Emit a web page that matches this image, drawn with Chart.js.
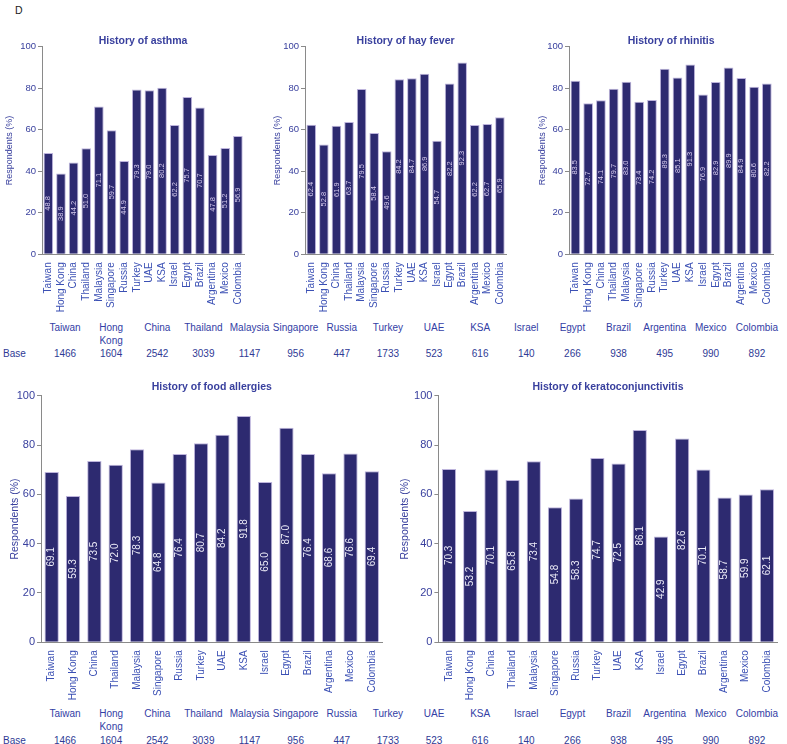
<!DOCTYPE html>
<html>
<head>
<meta charset="utf-8">
<script src="https://cdn.jsdelivr.net/npm/chart.js@4.4.1/dist/chart.umd.min.js"></script>
<style>
html, body { margin:0; padding:0; background:#fff; }
#page { position:relative; width:787px; height:744px; overflow:hidden; font-family:"Liberation Sans", Arial, sans-serif; }
.box { position:absolute; }
.cell { position:absolute; width:48px; margin-left:-24px; text-align:center; font-size:10px; line-height:13px; color:#3340a5; }
.lbl { position:absolute; font-size:10px; line-height:13px; color:#2f3a95; }
</style>
</head>
<body>
<div id="page">
  <div class="lbl" style="left:15px; top:4px; font-size:10.5px; color:#222;">D</div>

  <div class="box" style="left:0; top:30px;"><canvas id="c-asthma" width="258" height="290"></canvas></div>
  <div class="box" style="left:262px; top:30px;"><canvas id="c-hay" width="258" height="290"></canvas></div>
  <div class="box" style="left:526px; top:30px;"><canvas id="c-rhin" width="261" height="290"></canvas></div>
  <div class="box" style="left:0; top:375px;"><canvas id="c-food" width="392" height="330"></canvas></div>
  <div class="box" style="left:394px; top:375px;"><canvas id="c-kerato" width="393" height="330"></canvas></div>

  <div id="table-top"></div>
  <div id="table-bottom"></div>
</div>

<script>
// ---- data ----
const countries = ['Taiwan','Hong Kong','China','Thailand','Malaysia','Singapore','Russia','Turkey','UAE','KSA','Israel','Egypt','Brazil','Argentina','Mexico','Colombia'];
const baseN = [1466,1604,2542,3039,1147,956,447,1733,523,616,140,266,938,495,990,892];
const yTicks = [0,20,40,60,80,100];

const asthma   = [48.8,38.9,44.2,51.0,71.1,59.7,44.9,79.3,79.0,80.2,62.2,75.7,70.7,47.8,51.2,56.9];
const hayFever = [62.4,52.8,61.9,63.7,79.5,58.4,49.6,84.2,84.7,86.9,54.7,82.2,92.3,62.2,62.7,65.9];
const rhinitis = [83.5,72.7,74.1,79.7,83.0,73.4,74.2,89.3,85.1,91.3,76.9,82.9,89.9,84.9,80.6,82.2];
const foodAllergies = [69.1,59.3,73.5,72.0,78.3,64.8,76.4,80.7,84.2,91.8,65.0,87.0,76.4,68.6,76.6,69.4];
const kerato   = [70.3,53.2,70.1,65.8,73.4,54.8,58.3,74.7,72.5,86.1,42.9,82.6,70.1,58.7,59.9,62.1];

const FONT = '"Liberation Sans", Arial, sans-serif';
const BAR = '#2d2a70';
const BAR_EDGE = '#bdb4dc';
const AXIS = '#8a8a8a';
const TICK = '#39409e';
const CAT = '#3b50b4';

// value labels inside the bars + chart title above the plot
const barText = {
  id: 'barText',
  afterDatasetsDraw(chart, args, o){
    const ctx = chart.ctx;
    const meta = chart.getDatasetMeta(0);
    const vals = chart.data.datasets[0].data;
    ctx.save();
    ctx.font = o.size + 'px ' + FONT;
    ctx.fillStyle = o.color;
    ctx.textAlign = 'center';
    ctx.textBaseline = 'middle';
    meta.data.forEach((bar, i) => {
      ctx.save();
      ctx.translate(bar.x, (bar.y + bar.base) / 2);
      ctx.rotate(-Math.PI / 2);
      ctx.fillText(vals[i].toFixed(1), 0, 0);
      ctx.restore();
    });
    const a = chart.chartArea;
    ctx.font = 'bold ' + o.titleSize + 'px ' + FONT;
    ctx.fillStyle = TICK;
    ctx.fillText(o.title, (a.left + a.right) / 2, a.top - o.titleGap);
    ctx.restore();
  }
};

function makeChart(id, title, values, g){
  return new Chart(document.getElementById(id), {
    type: 'bar',
    data: {
      labels: countries,
      datasets: [{
        data: values,
        backgroundColor: BAR,
        borderColor: BAR_EDGE,
        borderWidth: 1,
        borderSkipped: 'start',
        categoryPercentage: 1,
        barPercentage: g.bar
      }]
    },
    options: {
      responsive: false,
      animation: false,
      layout: { padding: { left: 0, top: g.pt, right: g.pr, bottom: 0 } },
      plugins: {
        legend: { display: false },
        tooltip: { enabled: false },
        barText: { title: title, titleSize: 10.5, titleGap: g.tg, size: g.val, color: g.valColor }
      },
      scales: {
        x: {
          grid: { display: false, drawTicks: false },
          border: { display: true, color: AXIS, width: 1 },
          ticks: { autoSkip: false, maxRotation: 90, minRotation: 90, padding: 8, color: CAT, font: { size: 10, family: FONT } },
          afterFit: s => { s.height = g.xh; }
        },
        y: {
          min: 0, max: 100,
          afterBuildTicks: s => { s.ticks = yTicks.map(v => ({ value: v })); },
          ticks: { color: TICK, padding: 2, font: { size: g.tick, family: FONT } },
          grid: { drawOnChartArea: false, tickLength: 4, color: AXIS },
          border: { color: AXIS, width: 1 },
          title: { display: true, text: 'Respondents (%)', color: TICK, font: { size: g.yt, family: FONT }, padding: { top: g.ytp, bottom: 0 } },
          afterFit: s => { s.width = g.yw; }
        }
      }
    },
    plugins: [barText]
  });
}

const topGeo = { pt: 16.5, xh: 65.7, bar: 0.76, tick: 9.5, yt: 9, tg: 5, val: 7.5, valColor: '#d8cdef' };
const botGeo = { pt: 20.7, xh: 62.7, bar: 0.67, tick: 11, yt: 10.5, tg: 8.4, val: 10, valColor: '#ecebf7' };

makeChart('c-asthma', 'History of asthma', asthma, Object.assign({}, topGeo, { yw: 42, pr: 3.7, ytp: 4.5 }));
makeChart('c-hay', 'History of hay fever', hayFever, Object.assign({}, topGeo, { yw: 43, pr: 2.7, ytp: 10.5 }));
makeChart('c-rhin', 'History of rhinitis', rhinitis, Object.assign({}, topGeo, { yw: 43, pr: 5.4, ytp: 11.5 }));
makeChart('c-food', 'History of food allergies', foodAllergies, Object.assign({}, botGeo, { yw: 41, pr: 5.4, ytp: 8.7 }));
makeChart('c-kerato', 'History of keratoconjunctivitis', kerato, Object.assign({}, botGeo, { yw: 44.4, pr: 2, ytp: 4.7 }));

// base-size table under each row of charts
function buildTable(elId, nameTop, baseTop){
  const el = document.getElementById(elId);
  let html = `<div class="lbl" style="left:3px; top:${baseTop}px;">Base</div>`;
  countries.forEach((c, i) => {
    const x = 65 + i * 46.13;
    html += `<div class="cell" style="left:${x}px; top:${nameTop}px;">${c}</div>`;
    html += `<div class="cell" style="left:${x}px; top:${baseTop}px; color:#2f3a95;">${baseN[i]}</div>`;
  });
  el.innerHTML = html;
}
buildTable('table-top', 320.5, 346.5);
buildTable('table-bottom', 706.5, 733.5);
</script>
</body>
</html>
